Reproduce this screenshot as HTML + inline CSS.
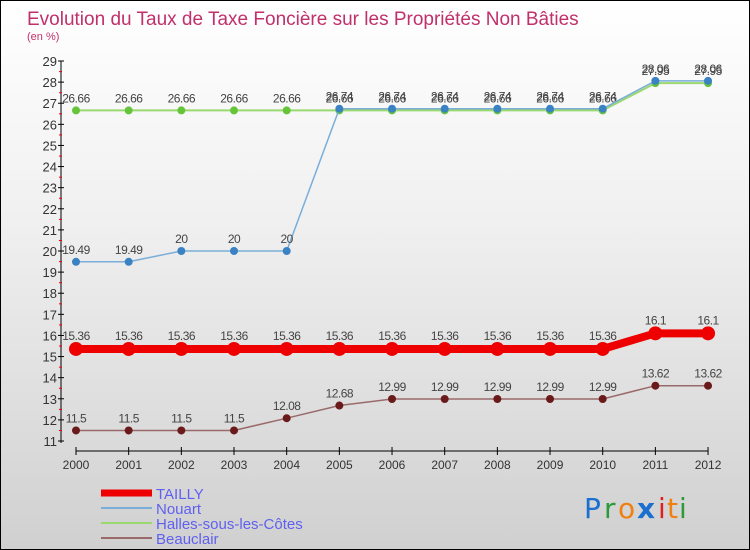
<!DOCTYPE html>
<html><head><meta charset="utf-8"><style>
html,body{margin:0;padding:0}
body{width:750px;height:550px;overflow:hidden}
#wrap{position:relative;width:748px;height:548px;border:1px solid #000;background:linear-gradient(#fff 0%,#f0f0f0 40%,#d0d0d0 100%);font-family:"Liberation Sans",sans-serif}
</style></head><body>
<div id="wrap">
<svg id="svg" width="748" height="548" style="position:absolute;left:0;top:0" font-family="'Liberation Sans',sans-serif">
<text x="26" y="24" font-size="19" fill="#c0306a">Evolution du Taux de Taxe Foncière sur les Propriétés Non Bâties</text>
<text x="26" y="39" font-size="11" fill="#c0306a">(en %)</text>
<g id="axes"></g><g id="series"></g><g id="legend"></g>
<g font-size="28" font-family="'DejaVu Sans',sans-serif">
<text x="583" y="517" fill="#1a6fd0">P</text><text x="603" y="517" fill="#2a9a3a">r</text><text x="617" y="517" fill="#f08010">o</text><text x="636" y="517" fill="#1a6fd0" font-weight="bold">x</text><text x="657" y="517" fill="#e02020">i</text><text x="666" y="517" fill="#f08010">t</text><text x="678" y="517" fill="#2a9a3a">i</text>
</g>
</svg></div>
<script>
const years=[2000,2001,2002,2003,2004,2005,2006,2007,2008,2009,2010,2011,2012];
const yTicks=[11,12,13,14,15,16,17,18,19,20,21,22,23,24,25,26,27,28,29];
const tailly=[15.36,15.36,15.36,15.36,15.36,15.36,15.36,15.36,15.36,15.36,15.36,16.1,16.1];
const nouart=[19.49,19.49,20,20,20,26.74,26.74,26.74,26.74,26.74,26.74,28.06,28.06];
const halles=[26.66,26.66,26.66,26.66,26.66,26.66,26.66,26.66,26.66,26.66,26.66,27.95,27.95];
const beauclair=[11.5,11.5,11.5,11.5,12.08,12.68,12.99,12.99,12.99,12.99,12.99,13.62,13.62];
const NS="http://www.w3.org/2000/svg";
const X=i=>75+i*52.67, Y=v=>440-(v-11)*(380/18);
function mk(tag,attrs,parent,txt){const e=document.createElementNS(NS,tag);for(const k in attrs)e.setAttribute(k,attrs[k]);if(txt!==undefined)e.textContent=txt;parent.appendChild(e);return e;}
const axes=document.getElementById('axes');
let e=mk('line',{x1:60,y1:60,x2:60,y2:442,stroke:'#000','stroke-width':1},axes);

yTicks.forEach(t=>{const y=Y(t);
 mk('line',{x1:57,y1:y,x2:63,y2:y,stroke:'#000'},axes);
 if(t<29)mk('line',{x1:58,y1:y-10.5,x2:61,y2:y-10.5,stroke:'#e00'},axes);
 e=mk('text',{x:56,y:y+5,'font-size':13,'text-anchor':'end',fill:'#333'},axes,String(t));
 });
e=mk('line',{x1:75,y1:450,x2:707,y2:450,stroke:'#000'},axes);

years.forEach((yr,i)=>{const x=X(i);mk('line',{x1:x,y1:446,x2:x,y2:454,stroke:'#000'},axes);
 e=mk('text',{x:x,y:468,'font-size':12,'text-anchor':'middle',fill:'#333'},axes,String(yr));
 });
const ser=document.getElementById('series');
const defs=[
 {name:'halles',data:halles,c:'#9ad870',w:2,p:'#66c43a',r:4},
 {name:'nouart',data:nouart,c:'#7aaed8',w:1.5,p:'#3a82c4',r:4},
 {name:'beauclair',data:beauclair,c:'#9a6a6a',w:1.5,p:'#6a1a1a',r:4},
 {name:'tailly',data:tailly,c:'#ee0000',w:8,p:'#ee0000',r:7}];
defs.forEach(s=>{const g=mk('g',{},ser);
 
 const pl=mk('polyline',{points:s.data.map((v,i)=>X(i)+','+Y(v)).join(' '),fill:'none',stroke:s.c,'stroke-width':s.w},g);
 
 s.data.forEach((v,i)=>{const c=mk('circle',{cx:X(i),cy:Y(v),r:s.r,fill:s.p},g);
  
  const t=mk('text',{x:X(i),y:Y(v)-(s.name==='tailly'?9:8),'font-size':12,'text-anchor':'middle',fill:'#444','letter-spacing':'-0.5'},g,String(v));
  });});
const leg=document.getElementById('legend');
[['TAILLY','#ee0000',7],['Nouart','#7aaed8',2],['Halles-sous-les-Côtes','#9ad870',2],['Beauclair','#9a6a6a',2]].forEach((l,i)=>{
 const y=492+i*15;const g=mk('g',{},leg);
 
 mk('line',{x1:100,y1:y,x2:151,y2:y,stroke:l[1],'stroke-width':l[2]},g);
 mk('text',{x:155,y:y+6,'font-size':15,fill:'#6060f0'},g,l[0]);});
</script></body></html>
